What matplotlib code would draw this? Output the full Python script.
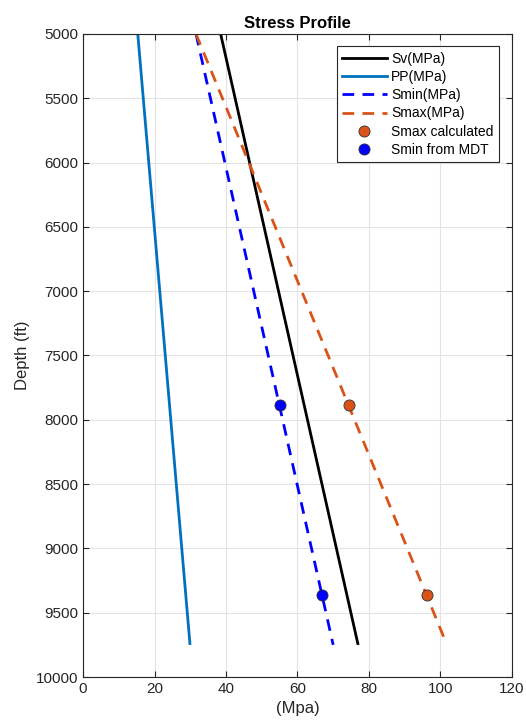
import matplotlib
matplotlib.use("Agg")
import matplotlib.pyplot as plt

plt.rcParams['font.family'] = ['Liberation Sans', 'DejaVu Sans']

# line end points (MPa vs depth ft)
sv_x = [38.5, 76.9]
sv_depth = [5000, 9740]
pp_x = [15.3, 29.9]
pp_depth = [5000, 9740]
smin_x = [31.6, 70.0]
smin_depth = [5000, 9750]
smax_x = [31.6, 101.4]
smax_depth = [5000, 9720]

# point data
pt_depth = [7885, 9362]
smax_calc = [74.4, 96.3]
smin_mdt = [55.0, 66.9]

fig = plt.figure(figsize=(5.26, 7.25), dpi=100)
ax = fig.add_axes([0.158, 0.0662, 0.815, 0.887])

dash = (0, (4.2, 3))
ax.plot(sv_x, sv_depth, color='black', lw=2, label='Sv(MPa)')
ax.plot(pp_x, pp_depth, color='#0072BD', lw=2, label='PP(MPa)')
ax.plot(smin_x, smin_depth, color='#0000FF', lw=2, ls=dash, label='Smin(MPa)')
ax.plot(smax_x, smax_depth, color='#D95319', lw=2, ls=dash, label='Smax(MPa)')
ax.plot(smax_calc, pt_depth, 'o', color='#D95319', mec='#333333', mew=0.6, ms=8,
        label='Smax calculated')
ax.plot(smin_mdt, pt_depth, 'o', color='#0000FF', mec='#333333', mew=0.6, ms=8,
        label='Smin from MDT')

ax.set_xlim(0, 120)
ax.set_ylim(10000, 5000)
ax.set_xticks(range(0, 121, 20))
ax.set_yticks(range(5000, 10001, 500))
ax.grid(True, color='#e3e3e3', lw=0.8)
ax.tick_params(direction='in', top=True, right=True, labelsize=11, colors='#262626',
               length=4)
for s in ax.spines.values():
    s.set_color('#262626')
    s.set_linewidth(0.8)

ax.set_title('Stress Profile', fontsize=12, fontweight='bold', pad=4)
ax.set_xlabel('(Mpa)', fontsize=12, color='#262626')
ax.set_ylabel('Depth (ft)', fontsize=12, color='#262626')

leg = ax.legend(loc='upper right', fontsize=10, fancybox=False, edgecolor='#262626',
                framealpha=1, handlelength=3.2, borderaxespad=0.9, labelspacing=0.3,
                handletextpad=0.35, borderpad=0.4)
leg.get_frame().set_linewidth(0.8)

fig.savefig('out.png', dpi=100)
